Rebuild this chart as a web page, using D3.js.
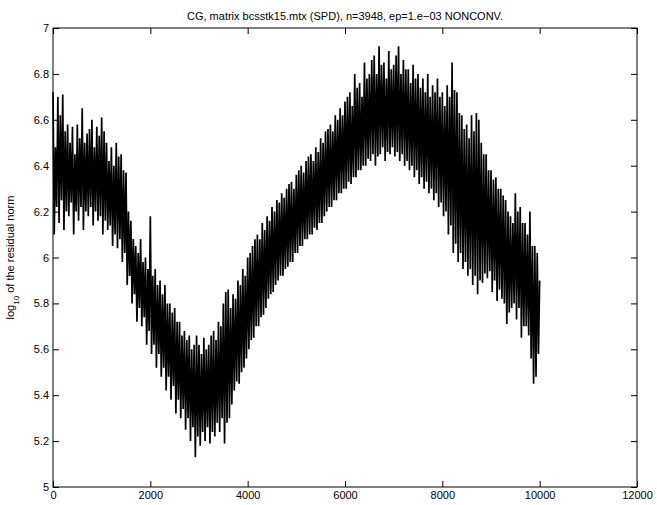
<!DOCTYPE html>
<html>
<head>
<meta charset="utf-8">
<script src="https://d3js.org/d3.v7.min.js"></script>
<style>
  body { margin: 0; background: #fff; }
  text { font-family: "Liberation Sans", Arial, sans-serif; }
</style>
</head>
<body>
<div id="chart"></div>
<script>
// residual peaks read at iterations 0,50,...,10000
var peaks = [
  6.72, 6.48, 6.70, 6.62, 6.71, 6.55, 6.58, 6.50, 6.57, 6.45,
  6.58, 6.52, 6.65, 6.50, 6.54, 6.56, 6.60, 6.48, 6.57, 6.53,
  6.61, 6.55, 6.50, 6.42, 6.48, 6.40, 6.50, 6.44, 6.45, 6.38,
  6.37, 6.20, 6.16, 6.08, 6.05, 6.02, 6.08, 5.98, 6.00, 5.95,
  6.18, 5.92, 5.95, 5.88, 5.90, 5.84, 5.88, 5.80, 5.80, 5.76,
  5.78, 5.72, 5.72, 5.66, 5.68, 5.64, 5.66, 5.60, 5.62, 5.66,
  5.62, 5.58, 5.65, 5.60, 5.62, 5.66, 5.68, 5.64, 5.72, 5.70,
  5.80, 5.85, 5.86, 5.78, 5.84, 5.82, 5.90, 5.88, 5.95, 5.92,
  6.00, 6.02, 6.05, 6.08, 6.10, 6.08, 6.15, 6.12, 6.18, 6.16,
  6.22, 6.20, 6.25, 6.24, 6.28, 6.26, 6.30, 6.32, 6.33, 6.30,
  6.36, 6.38, 6.40, 6.37, 6.42, 6.44, 6.45, 6.42, 6.48, 6.46,
  6.52, 6.50, 6.55, 6.56, 6.58, 6.55, 6.62, 6.60, 6.65, 6.62,
  6.68, 6.70, 6.72, 6.66, 6.80, 6.74, 6.76, 6.70, 6.85, 6.78,
  6.80, 6.86, 6.88, 6.80, 6.92, 6.84, 6.85, 6.78, 6.90, 6.82,
  6.84, 6.88, 6.92, 6.80, 6.86, 6.82, 6.82, 6.76, 6.84, 6.78,
  6.80, 6.74, 6.78, 6.72, 6.80, 6.70, 6.75, 6.72, 6.78, 6.70,
  6.72, 6.66, 6.75, 6.70, 6.85, 6.73, 6.72, 6.63, 6.62, 6.56,
  6.58, 6.52, 6.62, 6.55, 6.63, 6.60, 6.50, 6.45, 6.45, 6.38,
  6.38, 6.34, 6.35, 6.30, 6.30, 6.27, 6.25, 6.20, 6.18, 6.15,
  6.28, 6.20, 6.22, 6.15, 6.15, 6.10, 6.20, 6.05, 6.05, 6.02,
  5.90];

// residual troughs read at iterations 25,75,...,9975
var troughs = [
  6.10, 6.22, 6.15, 6.25, 6.12, 6.20, 6.18, 6.24, 6.10, 6.20,
  6.16, 6.22, 6.12, 6.20, 6.18, 6.22, 6.14, 6.20, 6.16, 6.18,
  6.10, 6.16, 6.12, 6.14, 6.05, 6.10, 6.04, 6.08, 5.98, 6.02,
  5.88, 5.92, 5.80, 5.84, 5.72, 5.78, 5.70, 5.74, 5.62, 5.68,
  5.58, 5.62, 5.52, 5.58, 5.48, 5.52, 5.42, 5.48, 5.38, 5.44,
  5.32, 5.38, 5.30, 5.34, 5.25, 5.30, 5.20, 5.26, 5.13, 5.22,
  5.18, 5.24, 5.20, 5.26, 5.19, 5.24, 5.22, 5.28, 5.24, 5.30,
  5.19, 5.28, 5.30, 5.36, 5.42, 5.46, 5.45, 5.50, 5.52, 5.56,
  5.60, 5.64, 5.65, 5.70, 5.70, 5.74, 5.75, 5.78, 5.82, 5.84,
  5.85, 5.88, 5.90, 5.92, 5.92, 5.95, 5.96, 5.98, 5.98, 6.02,
  6.02, 6.05, 6.05, 6.08, 6.08, 6.10, 6.10, 6.13, 6.12, 6.15,
  6.15, 6.18, 6.20, 6.22, 6.22, 6.25, 6.25, 6.28, 6.28, 6.30,
  6.30, 6.33, 6.32, 6.35, 6.35, 6.38, 6.38, 6.40, 6.40, 6.43,
  6.42, 6.45, 6.40, 6.44, 6.45, 6.48, 6.42, 6.46, 6.45, 6.48,
  6.44, 6.46, 6.42, 6.45, 6.40, 6.42, 6.38, 6.40, 6.35, 6.38,
  6.32, 6.35, 6.30, 6.33, 6.28, 6.30, 6.25, 6.28, 6.22, 6.24,
  6.18, 6.20, 6.10, 6.14, 6.02, 6.06, 5.98, 6.02, 5.95, 5.98,
  5.92, 5.95, 5.88, 5.92, 5.84, 5.90, 5.89, 5.93, 5.91, 5.94,
  5.85, 5.90, 5.81, 5.86, 5.82, 5.80, 5.71, 5.76, 5.78, 5.80,
  5.73, 5.78, 5.65, 5.70, 5.70, 5.66, 5.56, 5.45, 5.48, 5.58];

var xTicks = [0, 2000, 4000, 6000, 8000, 10000, 12000];
var yTicks = [5, 5.2, 5.4, 5.6, 5.8, 6, 6.2, 6.4, 6.6, 6.8, 7];

// interleave peaks and troughs into one series
var data = [];
peaks.forEach(function(p, i) {
  data.push({it: i * 50, v: p});
  if (i < troughs.length) data.push({it: i * 50 + 25, v: troughs[i]});
});

var W = 657, H = 505;
var margin = {top: 28, right: 20, bottom: 18, left: 53},
    width = W - margin.left - margin.right,
    height = H - margin.top - margin.bottom;

var svg = d3.select("#chart").append("svg")
    .attr("width", W).attr("height", H)
  .append("g")
    .attr("transform", "translate(" + margin.left + "," + margin.top + ")");

var x = d3.scaleLinear().domain([0, 12000]).range([0, width]);
var y = d3.scaleLinear().domain([5, 7]).range([height, 0]);

// the residual line
svg.append("path")
    .datum(data)
    .attr("fill", "none")
    .attr("stroke", "#000")
    .attr("stroke-width", 1.7)
    .attr("stroke-linejoin", "bevel")
    .attr("d", d3.line().x(function(d) { return x(d.it); }).y(function(d) { return y(d.v); }));

// axes, MATLAB style: ticks inside on all four sides
function styleAxis(g) {
  g.select(".domain").remove();
  g.selectAll(".tick line").attr("stroke", "#000");
  g.selectAll(".tick text").style("font-size", "11px").attr("fill", "#000");
}
svg.append("g").attr("transform", "translate(0," + height + ")")
  .call(d3.axisBottom(x).tickValues(xTicks).tickSize(-6).tickPadding(4).tickFormat(d3.format("d")))
  .call(styleAxis);
svg.append("g")
  .call(d3.axisTop(x).tickValues(xTicks).tickSize(-6).tickFormat(""))
  .call(styleAxis);
svg.append("g")
  .call(d3.axisLeft(y).tickValues(yTicks).tickSize(-6).tickPadding(4).tickFormat(d3.format("~g")))
  .call(styleAxis);
svg.append("g").attr("transform", "translate(" + width + ",0)")
  .call(d3.axisRight(y).tickValues(yTicks).tickSize(-6).tickFormat(""))
  .call(styleAxis);

svg.append("rect")
    .attr("width", width).attr("height", height)
    .attr("fill", "none").attr("stroke", "#000").attr("stroke-width", 1);

// title
svg.append("text")
    .attr("x", width / 2).attr("y", -8)
    .attr("text-anchor", "middle")
    .style("font-size", "11px")
    .text("CG, matrix bcsstk15.mtx (SPD), n=3948, ep=1.e\u221203 NONCONV.");

// y label with subscript
var yl = svg.append("text")
    .attr("transform", "translate(" + (-39) + "," + (height / 2) + ") rotate(-90)")
    .attr("text-anchor", "middle")
    .style("font-size", "11px");
yl.append("tspan").text("log");
yl.append("tspan").attr("baseline-shift", "sub").style("font-size", "8px").text("10");
yl.append("tspan").text(" of the residual norm");
</script>
</body>
</html>
